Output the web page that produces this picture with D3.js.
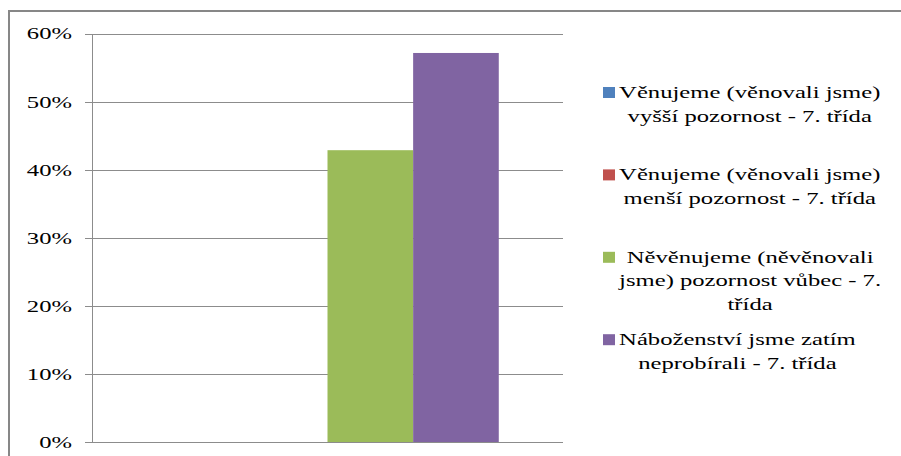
<!DOCTYPE html>
<html>
<head>
<meta charset="utf-8">
<script src="https://cdn.jsdelivr.net/npm/d3@7"></script>
<style>
  html, body { margin: 0; padding: 0; background: #fff; }
  svg { display: block; }
</style>
</head>
<body>
<div id="chart"></div>
<script>
const categories = ["7. třída"];
const seriesNames = [
  "Věnujeme (věnovali jsme) vyšší pozornost - 7. třída",
  "Věnujeme (věnovali jsme) menší pozornost - 7. třída",
  "Něvěnujeme (něvěnovali jsme) pozornost vůbec - 7. třída",
  "Náboženství jsme zatím neprobírali - 7. třída"
];
const legendLines = [
  ["Věnujeme (věnovali jsme)", "vyšší pozornost - 7. třída"],
  ["Věnujeme (věnovali jsme)", "menší pozornost - 7. třída"],
  ["Něvěnujeme (něvěnovali", "jsme) pozornost vůbec - 7.", "třída"],
  ["Náboženství jsme zatím", "neprobírali - 7. třída"]
];
const values = [0, 0, 0.4286, 0.5714];
const colors = ["#4F81BD", "#C0504D", "#9BBB59", "#8064A2"];
const yTicks = [0, 0.1, 0.2, 0.3, 0.4, 0.5, 0.6];

const W = 901, H = 456;
const plot = { left: 92, right: 563, top: 33.5, bottom: 442 };
const sx = 1.45; // horizontal text stretch
const fontSize = 17;
const fontFam = "'Liberation Serif', 'Times New Roman', 'DejaVu Serif', serif";

const svg = d3.select("#chart").append("svg").attr("width", W).attr("height", H);
svg.append("rect").attr("width", W).attr("height", H).attr("fill", "#fff");

// outer chart border (only left and top are in view)
svg.append("rect")
  .attr("x", 9).attr("y", 11).attr("width", 1000).attr("height", 600)
  .attr("fill", "none").attr("stroke", "#878787").attr("stroke-width", 2);

const y = d3.scaleLinear().domain([0, 0.6]).range([plot.bottom, plot.top]);
const x0 = d3.scaleBand().domain(categories).range([plot.left, plot.right]).padding(0);
const x1 = d3.scaleBand().domain(seriesNames).range([0, x0.bandwidth()])
  .paddingInner(0).paddingOuter(0.75);

// gridlines + tick marks
svg.append("g")
  .attr("transform", `translate(${plot.left},0)`)
  .call(d3.axisLeft(y).tickValues(yTicks).tickSize(-(plot.right - plot.left)).tickFormat(""))
  .call(g => g.select(".domain").remove())
  .call(g => g.selectAll(".tick line").attr("stroke", "#8c8c8c").attr("shape-rendering", "crispEdges"));

svg.append("g")
  .attr("transform", `translate(${plot.left},0)`)
  .call(d3.axisLeft(y).tickValues(yTicks).tickSize(7).tickFormat(""))
  .call(g => g.select(".domain").remove())
  .call(g => g.selectAll(".tick line").attr("stroke", "#8c8c8c").attr("shape-rendering", "crispEdges"));

// bars
svg.append("g").selectAll("g").data(categories).join("g")
  .attr("transform", d => `translate(${x0(d)},0)`)
  .selectAll("rect")
  .data(() => seriesNames.map((s, i) => ({ s, v: values[i], c: colors[i] })))
  .join("rect")
  .attr("x", d => x1(d.s))
  .attr("width", x1.bandwidth())
  .attr("y", d => y(d.v))
  .attr("height", d => y(0) - y(d.v))
  .attr("fill", d => d.c);

// y axis line
svg.append("line")
  .attr("x1", plot.left).attr("x2", plot.left)
  .attr("y1", y(0.6)).attr("y2", y(0))
  .attr("stroke", "#8c8c8c").attr("shape-rendering", "crispEdges");

// y tick labels
svg.append("g").selectAll("text").data(yTicks).join("text")
  .attr("transform", d => `translate(72,${y(d)}) scale(${sx},1)`)
  .attr("text-anchor", "end")
  .attr("dy", "0.35em")
  .attr("font-family", fontFam)
  .attr("font-size", fontSize)
  .attr("fill", "#000")
  .text(d3.format(".0%"));

// legend
const legX = 603, legSq = 12, textStart = 619;
const firstBase = 98, entryStep = 82.4, lineStep = 23.5;
const leg = svg.append("g");
legendLines.forEach((lines, i) => {
  const base = firstBase + i * entryStep;
  leg.append("rect")
    .attr("x", legX).attr("y", base - 11)
    .attr("width", legSq).attr("height", legSq - 1)
    .attr("fill", colors[i]);
  const texts = lines.map((ln, j) => leg.append("text")
    .attr("font-family", fontFam)
    .attr("font-size", fontSize)
    .attr("fill", "#000")
    .attr("text-anchor", "middle")
    .text(ln));
  const maxW = d3.max(texts, t => t.node().getComputedTextLength()) * sx;
  const cx = textStart + maxW / 2;
  texts.forEach((t, j) => t.attr("transform", `translate(${cx},${base + j * lineStep}) scale(${sx},1)`));
});
</script>
</body>
</html>
